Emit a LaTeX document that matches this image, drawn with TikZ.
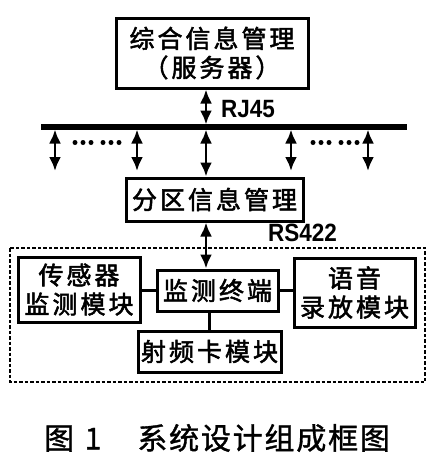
\documentclass[tikz,border=0pt]{standalone}
\usepackage{fontspec}
\usetikzlibrary{arrows.meta}
\newfontfamily\cjk{Noto Sans CJK SC}[LetterSpace=12,FakeBold=2]
\newfontfamily\cjkcap{Noto Sans CJK SC}[LetterSpace=6,FakeBold=1.2]
\newfontfamily\lab{Liberation Sans Bold}[FakeStretch=0.9]
\tikzset{
  box/.style={draw, line width=3pt, inner sep=0pt, align=center,
    font=\cjk\fontsize{25}{29}\selectfont},
  dbl/.style={line width=2.8pt, arrows={Latex[length=14pt,width=12pt]-Latex[length=14pt,width=12pt]}},
  conn/.style={line width=3pt},
  lbl/.style={font=\lab\fontsize{25}{26}\selectfont, inner sep=0pt},
  dotc/.style={fill=black}
}
\begin{document}
\begin{tikzpicture}[x=1pt,y=-1pt]
\useasboundingbox (0,0) rectangle (436,461);
\fill[white] (0,0) rectangle (436,461);
% boxes
\node[box, minimum width=192pt, minimum height=70pt] (top) at (212,53)
  {综合信息管理\\（服务器）};
\node[box, minimum width=177pt, minimum height=43pt] (zone) at (214.5,199.5) {分区信息管理};
\node[box, minimum width=122pt, minimum height=65pt] (sensor) at (79,289.5) {传感器\\监测模块};
\node[box, minimum width=121pt, minimum height=41pt] (term) at (217.5,290.5) {监测终端};
\node[box, minimum width=121pt, minimum height=69pt] (voice) at (354.5,292.5) {语音\\录放模块};
\node[box, minimum width=143pt, minimum height=41pt] (rf) at (209.5,351.5) {射频卡模块};
% dashed frame
\draw[line width=2.4pt, dash pattern=on 3.5pt off 2pt] (10,248) rectangle (425,382);
% bus
\coordinate (busL) at (41,127);
\coordinate (busR) at (407,127);
\draw[line width=5.5pt] (busL) -- (busR);
\coordinate (bt) at (206,124.5);
\draw[dbl] (top.south -| bt) -- (bt);
\node[lbl, anchor=west] (rj) at (221,109) {RJ45};
% branch arrows
\foreach \i/\x in {1/55,2/137,4/291,5/368}{
  \coordinate (b\i) at (\x,129.5);
  \coordinate (e\i) at (\x,171);
  \draw[dbl] (b\i) -- (e\i);
}
\coordinate (b3) at (206,129.5);
\draw[dbl] (b3) -- (zone.north -| b3);
\foreach \x in {75,83,91,103,111,119,313,321,329,341,349,357}
  \fill[dotc] (\x,142.5) circle (2.5pt);
% RS422
\draw[dbl] (zone.south -| b3) -- (term.north -| b3);
\node[lbl, anchor=west] (rs) at (268,233) {RS422};
% internal connections
\draw[conn] (sensor.east |- term.west) -- (term.west);
\draw[conn] (term.east) -- (voice.west |- term.east);
\draw[conn] (term.south -| rf.north) -- (rf.north);
% caption
\node[font=\cjkcap\fontsize{30}{32}\selectfont, inner sep=0pt, anchor=west] (cap) at (44,438)
  {图\hspace{0.35em}1\hspace{1.2em}系统设计组成框图};
\end{tikzpicture}
\end{document}
